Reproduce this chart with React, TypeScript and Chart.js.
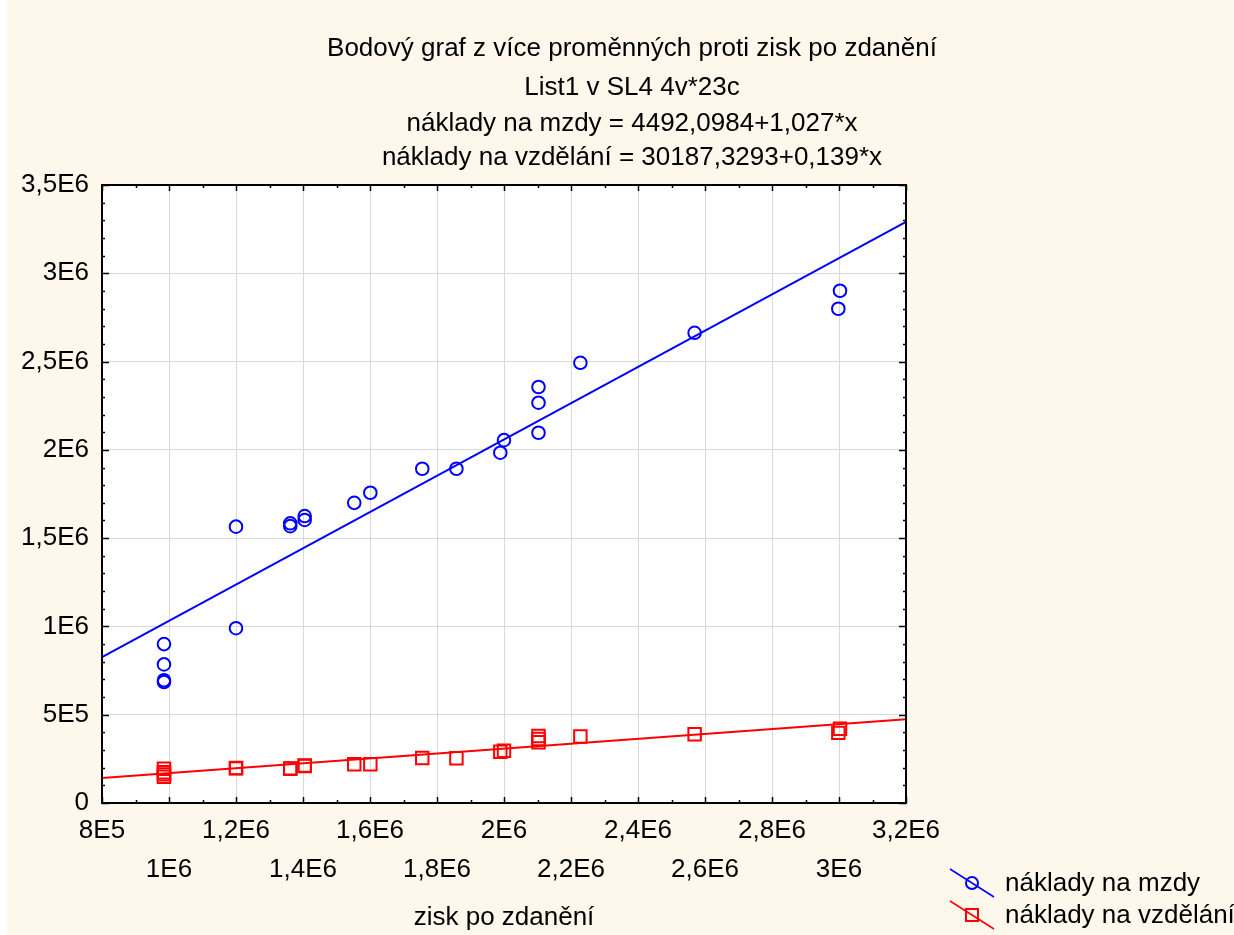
import React, { useEffect, useRef } from 'react';
import { Chart, registerables } from 'chart.js';

Chart.register(...registerables);

// Chart texts
const titleLines = [
  'Bodový graf z více proměnných proti zisk po zdanění',
  'List1 v SL4 4v*23c',
  'náklady na mzdy = 4492,0984+1,027*x',
  'náklady na vzdělání = 30187,3293+0,139*x',
];
const xAxisTitle = 'zisk po zdanění';
const seriesNames = ['náklady na mzdy', 'náklady na vzdělání'];

// Observations (23 cases)
const ziskPoZdaneni = [
  985000, 985000, 985000, 985000, 1200000, 1200000, 1362000, 1362000,
  1405000, 1405000, 1553000, 1601000, 1756000, 1858000, 1989000, 2000000,
  2103000, 2103000, 2103000, 2228000, 2569000, 3003000, 2998000,
];
const nakladyNaMzdy = [
  900000, 785000, 695000, 685000, 1565000, 990000, 1584000, 1568000,
  1625000, 1603000, 1700000, 1757000, 1893000, 1893000, 1984000, 2055000,
  2356000, 2267000, 2097000, 2493000, 2663000, 2901000, 2799000,
];
const nakladyNaVzdelani = [
  194000, 174000, 162000, 149000, 196000, 198000, 194000, 196000,
  210000, 212000, 219000, 219000, 255000, 253000, 290000, 296000,
  379000, 362000, 344000, 377000, 389000, 420000, 397000,
];

// Linear fits (intercept, slope)
const mzdyFit = [4492.0984, 1.027];
const vzdelaniFit = [30187.3293, 0.139];

// Axes
const xRange = [800000, 3200000];
const xStep = 200000;
const yRange = [0, 3500000];
const yStep = 500000;
const xTickLabels = ['8E5', '1E6', '1,2E6', '1,4E6', '1,6E6', '1,8E6', '2E6', '2,2E6', '2,4E6', '2,6E6', '2,8E6', '3E6', '3,2E6'];
const yTickLabels = ['0', '5E5', '1E6', '1,5E6', '2E6', '2,5E6', '3E6', '3,5E6'];

const BLUE = '#0000ff';
const RED = '#ff0000';
const FONT_FAMILY = '"Liberation Sans", Arial, sans-serif';
const FONT_SIZE = 26;

const toPoints = (xs: number[], ys: number[]) => xs.map((x, i) => ({ x, y: ys[i] }));
const fitLine = (fit: number[]) => xRange.map((x) => ({ x, y: fit[0] + fit[1] * x }));

const decorations = {
  id: 'decorations',
  beforeDraw(chart: any) {
    const { ctx, chartArea: a, width, height } = chart;
    ctx.save();
    ctx.fillStyle = '#fdf8eb';
    ctx.fillRect(0, 0, width, height);
    ctx.fillStyle = '#ffffff';
    ctx.fillRect(0, 0, 7, height);
    ctx.fillRect(a.left, a.top, a.right - a.left, a.bottom - a.top);
    ctx.restore();
  },
  afterDraw(chart: any) {
    const { ctx, chartArea: a } = chart;
    const xs = chart.scales.x;
    const ys = chart.scales.y;
    ctx.save();

    // inward tick marks on all four sides
    ctx.strokeStyle = '#000';
    ctx.lineWidth = 1.5;
    ctx.beginPath();
    for (let v = xRange[0]; v <= xRange[1] + 1; v += xStep / 2) {
      const px = Math.round(xs.getPixelForValue(v)) + 0.5;
      const major = Math.round((v - xRange[0]) / (xStep / 2)) % 2 === 0;
      const len = major ? 6 : 3;
      ctx.moveTo(px, a.bottom);
      ctx.lineTo(px, a.bottom - len);
      ctx.moveTo(px, a.top);
      ctx.lineTo(px, a.top + len);
    }
    for (let v = yRange[0]; v <= yRange[1] + 1; v += yStep / 5) {
      const py = Math.round(ys.getPixelForValue(v)) + 0.5;
      const major = Math.round((v - yRange[0]) / (yStep / 5)) % 5 === 0;
      const len = major ? 7 : 3;
      ctx.moveTo(a.left, py);
      ctx.lineTo(a.left + len, py);
      ctx.moveTo(a.right, py);
      ctx.lineTo(a.right - len, py);
    }
    ctx.stroke();

    // frame
    ctx.lineWidth = 2;
    ctx.strokeRect(a.left, a.top, a.right - a.left, a.bottom - a.top);

    // titles
    ctx.fillStyle = '#000';
    ctx.font = `${FONT_SIZE}px ${FONT_FAMILY}`;
    ctx.textAlign = 'center';
    ctx.textBaseline = 'alphabetic';
    const titleBase = [56, 95, 131, 165];
    titleLines.forEach((t, i) => ctx.fillText(t, 632, titleBase[i]));

    // x axis title
    ctx.fillText(xAxisTitle, (a.left + a.right) / 2, 925);

    // legend
    const items = [
      { name: seriesNames[0], color: BLUE, shape: 'circle', cy: 883 },
      { name: seriesNames[1], color: RED, shape: 'rect', cy: 915 },
    ];
    ctx.textAlign = 'left';
    ctx.textBaseline = 'middle';
    items.forEach((it) => {
      const cx = 972;
      ctx.strokeStyle = it.color;
      ctx.lineWidth = 1.5;
      ctx.beginPath();
      ctx.moveTo(cx - 22, it.cy - 14);
      ctx.lineTo(cx + 22, it.cy + 14);
      ctx.stroke();
      ctx.lineWidth = 2;
      ctx.beginPath();
      if (it.shape === 'circle') {
        ctx.arc(cx, it.cy, 6, 0, Math.PI * 2);
      } else {
        ctx.rect(cx - 6, it.cy - 6, 12, 12);
      }
      ctx.stroke();
      ctx.fillStyle = '#000';
      ctx.fillText(it.name, 1005, it.cy + 1);
    });
    ctx.restore();
  },
};

export default function App() {
  const canvasRef = useRef<HTMLCanvasElement>(null);

  useEffect(() => {
    document.body.style.margin = '0';
    const canvas = canvasRef.current;
    if (!canvas) return;
    const font = { family: FONT_FAMILY, size: FONT_SIZE };

    const chart = new Chart(canvas, {
      type: 'scatter',
      data: {
        datasets: [
          {
            label: seriesNames[0],
            data: toPoints(ziskPoZdaneni, nakladyNaMzdy),
            pointStyle: 'circle',
            pointRadius: 6.3,
            pointBorderWidth: 2,
            pointBackgroundColor: 'rgba(0,0,0,0)',
            pointBorderColor: BLUE,
            showLine: false,
          },
          {
            label: seriesNames[1],
            data: toPoints(ziskPoZdaneni, nakladyNaVzdelani),
            pointStyle: 'rect',
            pointRadius: 8.8,
            pointBorderWidth: 2,
            pointBackgroundColor: 'rgba(0,0,0,0)',
            pointBorderColor: RED,
            showLine: false,
          },
          {
            label: 'fit mzdy',
            data: fitLine(mzdyFit),
            showLine: true,
            borderColor: BLUE,
            borderWidth: 2,
            pointRadius: 0,
          },
          {
            label: 'fit vzdelani',
            data: fitLine(vzdelaniFit),
            showLine: true,
            borderColor: RED,
            borderWidth: 2,
            pointRadius: 0,
          },
        ],
      },
      options: {
        animation: false,
        responsive: false,
        devicePixelRatio: 1,
        layout: { padding: { top: 185, right: 328, bottom: 0, left: 0 } },
        plugins: {
          legend: { display: false },
          title: { display: false },
          tooltip: { enabled: false },
        },
        scales: {
          x: {
            type: 'linear',
            min: xRange[0],
            max: xRange[1],
            border: { display: false },
            grid: { color: '#d9d9d9', lineWidth: 1, drawTicks: false },
            ticks: {
              stepSize: xStep,
              autoSkip: false,
              maxRotation: 0,
              color: '#000',
              padding: 8,
              font: { ...font, lineHeight: 1.5 },
              callback: (_v: any, i: number) => (i % 2 === 0 ? xTickLabels[i] : ['', xTickLabels[i]]),
            },
            afterFit: (s: any) => {
              s.height = 132;
            },
          },
          y: {
            type: 'linear',
            min: yRange[0],
            max: yRange[1],
            border: { display: false },
            grid: { color: '#d9d9d9', lineWidth: 1, drawTicks: false },
            ticks: {
              stepSize: yStep,
              color: '#000',
              padding: 13,
              font,
              callback: (_v: any, i: number) => yTickLabels[i],
            },
            afterFit: (s: any) => {
              s.width = 102;
            },
          },
        },
      },
      plugins: [decorations],
    });
    return () => chart.destroy();
  }, []);

  return <canvas ref={canvasRef} width={1234} height={935} style={{ display: 'block' }} />;
}
